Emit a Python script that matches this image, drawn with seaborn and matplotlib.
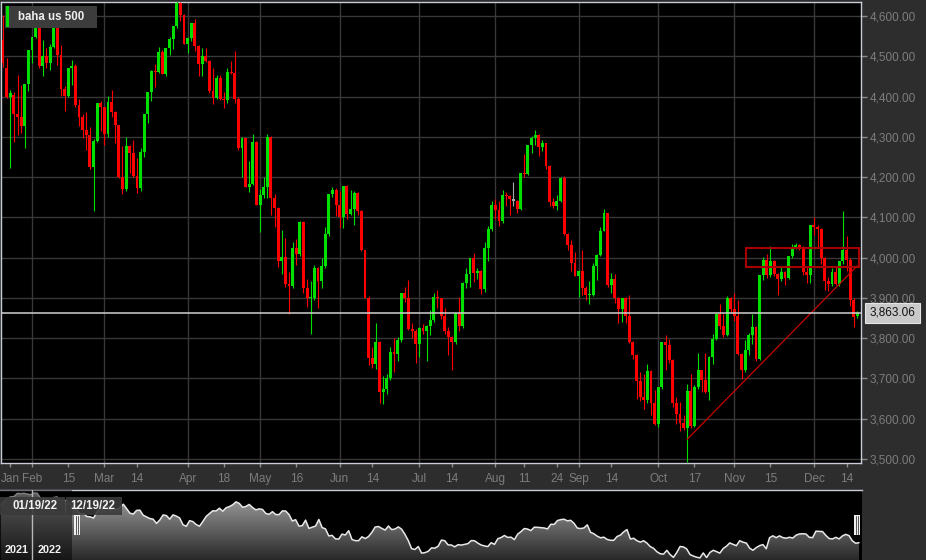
import numpy as np
import pandas as pd
import seaborn as sns
import matplotlib.pyplot as plt
from matplotlib.patches import Rectangle, PathPatch
from matplotlib.lines import Line2D
from matplotlib.colors import LinearSegmentedColormap

# CFD trading days (holidays traded, Good Friday closed)
dates = pd.bdate_range('2022-01-19', '2022-12-19')
dates = dates[dates != pd.Timestamp('2022-04-15')]

opens = [4577, 4540, 4470, 4398, 4405, 4356, 4350, 4327, 4432,
         4516, 4547, 4589, 4477, 4501, 4484, 4522, 4587, 4504, 4419, 4402, 4471, 4475, 4380, 4349, 4318, 4305, 4226, 4289, 4385,
         4374, 4306, 4387, 4363, 4329, 4201, 4171, 4278, 4260, 4204, 4173, 4262, 4358, 4412, 4463, 4461, 4512, 4456, 4520, 4543, 4576, 4632, 4602,
         4530, 4546, 4583, 4525, 4481, 4500, 4488, 4413, 4397, 4447, 4393, 4392, 4462, 4459, 4394, 4272, 4296, 4175, 4184, 4288,
         4132, 4155, 4175, 4300, 4147, 4123, 3991, 4001, 3935, 3930, 4024, 4008, 4089, 3924, 3901, 3901, 3974, 3941, 3979, 4058, 4158, 4168,
         4132, 4101, 4177, 4109, 4121, 4161, 4116, 4018, 3901, 3750, 3735, 3790, 3667, 3675, 3700, 3765, 3760, 3796, 3912, 3900, 3822, 3819,
         3785, 3825, 3818, 3831, 3845, 3903, 3899, 3854, 3819, 3802, 3790, 3863, 3831, 3937, 3960, 3999, 3962, 3967, 3921, 4024, 4072,
         4130, 4119, 4091, 4155, 4152, 4145, 4140, 4122, 4210, 4207, 4280, 4297, 4305, 4274, 4284, 4228, 4138, 4129, 4141, 4199, 4058, 4031, 3986,
         3955, 3967, 3924, 3908, 3908, 3980, 4006, 4067, 4110, 3933, 3946, 3901, 3873, 3900, 3856, 3790, 3758, 3693, 3655, 3647, 3719, 3640,
         3586, 3678, 3791, 3783, 3745, 3640, 3612, 3589, 3577, 3670, 3583, 3678, 3720, 3695, 3666, 3753, 3797, 3859, 3831, 3807, 3901,
         3872, 3856, 3760, 3720, 3771, 3807, 3828, 3749, 3956, 3993, 3957, 3992, 3959, 3947, 3965, 3950, 4004, 4027, 4032, 4026, 3964, 3958,
         4080, 4077, 4072, 3999, 3941, 3934, 3964, 3934, 3991, 4020, 3995, 3896, 3855]
highs = [4611, 4602, 4495, 4417, 4411, 4453, 4429, 4432, 4516,
         4546, 4595, 4590, 4540, 4521, 4531, 4590, 4588, 4527, 4426, 4472, 4490, 4480, 4395, 4358, 4363, 4325, 4295, 4385, 4389,
         4375, 4401, 4416, 4365, 4330, 4277, 4299, 4280, 4292, 4247, 4272, 4358, 4412, 4465, 4482, 4522, 4515, 4521, 4547, 4576, 4637, 4635, 4605,
         4548, 4583, 4594, 4528, 4521, 4521, 4490, 4471, 4453, 4453, 4411, 4471, 4489, 4513, 4398, 4300, 4298, 4240, 4308, 4290,
         4170, 4200, 4308, 4302, 4158, 4125, 4068, 4050, 3965, 4038, 4047, 4090, 4092, 3946, 3943, 3982, 3976, 3999, 4075, 4158, 4175, 4172,
         4166, 4177, 4180, 4169, 4165, 4163, 4119, 4020, 3905, 3779, 3838, 3792, 3707, 3712, 3779, 3801, 3802, 3913, 3928, 3945, 3837, 3822,
         3829, 3835, 3833, 3870, 3911, 3919, 3900, 3874, 3829, 3805, 3863, 3902, 3940, 3975, 3999, 4012, 3975, 3970, 4039, 4078, 4140,
         4145, 4141, 4167, 4162, 4155, 4187, 4142, 4211, 4257, 4280, 4301, 4318, 4307, 4293, 4286, 4230, 4149, 4156, 4200, 4203, 4062, 4045, 4015,
         3970, 4019, 3930, 3942, 3987, 4010, 4077, 4120, 4112, 3961, 3959, 3903, 3900, 3902, 3907, 3792, 3760, 3716, 3710, 3736, 3720, 3672,
         3679, 3791, 3807, 3797, 3748, 3653, 3641, 3608, 3685, 3712, 3683, 3763, 3722, 3762, 3757, 3810, 3862, 3886, 3859, 3905, 3903,
         3912, 3895, 3762, 3796, 3814, 3860, 3830, 3958, 4001, 4009, 4028, 3995, 3961, 3979, 3967, 4004, 4033, 4036, 4035, 4028, 3977, 4080,
         4101, 4080, 4074, 4002, 3951, 3974, 3977, 3991, 4115, 4053, 3998, 3900, 3868]
lows = [4530, 4474, 4396, 4222, 4288, 4304, 4309, 4273, 4415,
        4483, 4545, 4471, 4451, 4471, 4465, 4520, 4479, 4402, 4364, 4400, 4429, 4373, 4327, 4296, 4267, 4221, 4115, 4287, 4315,
        4279, 4300, 4350, 4284, 4199, 4157, 4165, 4210, 4200, 4161, 4165, 4251, 4335, 4390, 4425, 4458, 4455, 4452, 4503, 4518, 4570, 4589, 4530,
        4508, 4539, 4514, 4451, 4451, 4487, 4409, 4382, 4393, 4392, 4372, 4385, 4455, 4384, 4268, 4201, 4176, 4163, 4180, 4131,
        4063, 4147, 4148, 4106, 4077, 3976, 3959, 3928, 3859, 3925, 3983, 4005, 3912, 3877, 3810, 3895, 3875, 3925, 3975, 4055, 4150, 4104,
        4074, 4074, 4096, 4105, 4081, 4107, 4017, 3901, 3734, 3725, 3723, 3640, 3637, 3662, 3695, 3717, 3743, 3790, 3889, 3820, 3800, 3738,
        3753, 3810, 3743, 3809, 3840, 3876, 3847, 3811, 3759, 3722, 3785, 3818, 3825, 3924, 3927, 3939, 3947, 3910, 3915, 3992, 4065,
        4097, 4079, 4085, 4128, 4107, 4128, 4112, 4118, 4201, 4205, 4261, 4281, 4253, 4265, 4219, 4129, 4123, 4119, 4138, 4057, 4018, 3967, 3954,
        3903, 3907, 3895, 3886, 3905, 3945, 4004, 4065, 3928, 3912, 3887, 3838, 3839, 3837, 3789, 3749, 3648, 3644, 3623, 3640, 3610, 3584,
        3580, 3675, 3722, 3739, 3628, 3588, 3569, 3571, 3492, 3577, 3580, 3675, 3667, 3664, 3647, 3736, 3795, 3824, 3804, 3805, 3863,
        3843, 3758, 3698, 3715, 3758, 3786, 3744, 3745, 3944, 3949, 3953, 3955, 3907, 3941, 3933, 3947, 3999, 4022, 4020, 3956, 3937, 3938,
        4057, 4027, 3984, 3919, 3918, 3930, 3933, 3930, 3985, 3966, 3880, 3828, 3850]
closes = [4533, 4483, 4398, 4410, 4356, 4350, 4327, 4432, 4516,
          4547, 4589, 4477, 4501, 4484, 4522, 4587, 4504, 4419, 4402, 4471, 4475, 4380, 4349, 4318, 4305, 4226, 4289, 4385, 4374,
          4306, 4387, 4363, 4329, 4201, 4171, 4278, 4260, 4204, 4173, 4262, 4358, 4412, 4463, 4461, 4512, 4456, 4520, 4543, 4576, 4632, 4602, 4530,
          4546, 4583, 4525, 4481, 4500, 4488, 4413, 4397, 4447, 4393, 4392, 4462, 4459, 4394, 4272, 4296, 4175, 4184, 4288, 4132,
          4155, 4175, 4300, 4147, 4123, 3991, 4001, 3935, 3930, 4024, 4008, 4089, 3924, 3901, 3901, 3974, 3941, 3979, 4058, 4158, 4168, 4132,
          4101, 4177, 4109, 4121, 4161, 4116, 4018, 3901, 3750, 3735, 3790, 3667, 3675, 3700, 3765, 3760, 3796, 3912, 3900, 3822, 3819, 3785,
          3825, 3818, 3831, 3845, 3903, 3899, 3854, 3819, 3802, 3790, 3863, 3831, 3937, 3960, 3999, 3962, 3967, 3921, 4024, 4072, 4130,
          4119, 4091, 4155, 4152, 4145, 4140, 4122, 4210, 4207, 4280, 4297, 4305, 4274, 4284, 4228, 4138, 4129, 4141, 4199, 4058, 4031, 3986, 3955,
          3967, 3924, 3908, 3908, 3980, 4006, 4067, 4110, 3933, 3946, 3901, 3873, 3900, 3856, 3790, 3758, 3693, 3655, 3647, 3719, 3640, 3586,
          3678, 3791, 3783, 3745, 3640, 3612, 3589, 3577, 3670, 3583, 3678, 3720, 3695, 3666, 3753, 3797, 3859, 3831, 3807, 3901, 3872,
          3856, 3760, 3720, 3771, 3807, 3828, 3749, 3956, 3993, 3957, 3992, 3959, 3947, 3965, 3950, 4004, 4027, 4032, 4026, 3964, 3958, 4080,
          4077, 4072, 3999, 3941, 3934, 3964, 3934, 3991, 4020, 3995, 3896, 3852, 3863.06]

# closes Dec 20 2021 .. Jan 18 2022 (only shown in the navigator)
prev_closes = [4568, 4649, 4697, 4726, 4730, 4791, 4786, 4793, 4778, 4766,
               4797, 4794, 4701, 4696, 4677, 4670, 4713, 4726, 4660, 4663, 4655, 4577]

last_price = 3863.06
y_ticks = [3500, 3600, 3700, 3800, 3900, 4000, 4100, 4200, 4300, 4400, 4500, 4600]
tick_dates = ['2022-01-24', '2022-02-01', '2022-02-15', '2022-03-01', '2022-03-14', '2022-04-01',
              '2022-04-18', '2022-05-02', '2022-05-16', '2022-06-01', '2022-06-14', '2022-07-01',
              '2022-07-14', '2022-08-01', '2022-08-11', '2022-08-24', '2022-09-01', '2022-09-14',
              '2022-10-03', '2022-10-17', '2022-11-01', '2022-11-15', '2022-12-01', '2022-12-14']
tick_labels = ['Jan', 'Feb', '15', 'Mar', '14', 'Apr', '18', 'May', '16', 'Jun', '14', 'Jul',
               '14', 'Aug', '11', '24', 'Sep', '14', 'Oct', '17', 'Nov', '15', 'Dec', '14']
month_dates = ['2022-02-01', '2022-03-01', '2022-04-01', '2022-05-02', '2022-06-01', '2022-07-01',
               '2022-08-01', '2022-09-01', '2022-10-03', '2022-11-01', '2022-12-01']

trend_dates = ['2022-10-13', '2022-12-19']
trend_values = [3549, 3980]
zone_dates = ['2022-11-04', '2022-12-19']
zone_values = [3977, 4024]
highlight_date = '2022-08-08'

UP, DOWN, GREY = '#00e000', '#ff0000', '#a8a8a8'
BG = '#2d2d2d'
GRID = '#383838'
BORDER = '#c8ccd8'
LABEL = '#7d7d7d'

sns.set_theme(style='dark', rc={'axes.facecolor': 'black', 'figure.facecolor': BG})
plt.rcParams['font.family'] = ['Liberation Sans', 'DejaVu Sans']

df = pd.DataFrame({'date': dates, 'open': opens, 'high': highs, 'low': lows, 'close': closes})
df['i'] = np.arange(len(df))
pos = {d: i for i, d in enumerate(df['date'])}


def ix(d):
    return pos[pd.Timestamp(d)]


def fx(px):
    return px / 926


def fy(py):
    return 1 - py / 560


fig = plt.figure(figsize=(9.26, 5.6), dpi=100, facecolor=BG)
ax = fig.add_axes([fx(1), fy(463), 860 / 926, 461 / 560])
ax.set_facecolor('black')

cols = np.where(df['close'] >= df['open'], UP, DOWN).astype(object)
cols[ix(highlight_date)] = GREY
body = np.maximum((df['close'] - df['open']).abs(), 1.5)
bottom = np.minimum(df['open'], df['close'])
ax.vlines(df['i'], df['low'], df['high'], colors=cols, linewidth=0.8, zorder=3)
ax.bar(df['i'], body, bottom=bottom, width=0.8, color=cols, linewidth=0, zorder=3)

# grid
ax.set_axisbelow(True)
ax.set_yticks(y_ticks)
ax.set_yticklabels([f'{v:,.2f}' for v in y_ticks])
ax.yaxis.grid(True, color=GRID, linewidth=1)
ax.xaxis.grid(False)
for d in month_dates:
    ax.axvline(ix(d), color=GRID, linewidth=1, zorder=1)

ax.set_xticks([ix(d) for d in tick_dates])
ax.set_xticklabels(tick_labels)
ax.yaxis.tick_right()
ax.tick_params(axis='y', right=True, left=False, labelright=True, labelleft=False,
               length=4, width=1, color='#8a8a8a', labelcolor=LABEL, labelsize=8.5, pad=2)
ax.tick_params(axis='x', bottom=True, length=3, width=1, color='#8a8a8a',
               labelcolor=LABEL, labelsize=8.5, pad=4)
for s in ax.spines.values():
    s.set_visible(True)
    s.set_color(BORDER)
    s.set_linewidth(1)

# annotations
ax.plot([ix(trend_dates[0]), ix(trend_dates[1])], trend_values, color='#c80000', linewidth=0.9, zorder=4)
ax.add_patch(Rectangle((ix(zone_dates[0]) + 0.2, zone_values[0]),
                       ix(zone_dates[1]) + 0.3 - ix(zone_dates[0]), zone_values[1] - zone_values[0],
                       fill=False, edgecolor='#a80000', linewidth=1.5, zorder=4))
ax.axhline(last_price, color='#d0d0d0', linewidth=1.1, zorder=5)
ax.text(1.01, last_price, f'{last_price:,.2f}', transform=ax.get_yaxis_transform(),
        ha='left', va='center', fontsize=8.5, color='#111111', clip_on=False,
        bbox=dict(boxstyle='square,pad=0.35', fc='#c9c9c9', ec='#e4e4e4', lw=0.8))

ax.set_xlim(0.44, 238.0)
ax.set_ylim(3490, 4635)

# title badge
fig.add_artist(Rectangle((fx(5), fy(28)), 92 / 926, 22 / 560, transform=fig.transFigure,
                         fc='#3c3c3c', ec='none', zorder=5))
fig.add_artist(Rectangle((fx(6), fy(27)), 3 / 926, 21 / 560, transform=fig.transFigure,
                         fc=UP, ec='none', zorder=6))
fig.text(fx(18), fy(17), 'baha us 500', color='#eeeeee', fontsize=8.3, weight='bold',
         ha='left', va='center', zorder=7)

# navigator
nav_closes = prev_closes + closes
nav_idx = np.arange(len(nav_closes))
ax2 = fig.add_axes([0, 0, 862 / 926, 70 / 560])
ax2.set_facecolor('black')
nx0, nx1, ny0, ny1 = -0.21, 259.9, 3537, 4855
poly = ax2.fill_between(nav_idx, nav_closes, ny0 - 50, color='none', linewidth=0)
clip = PathPatch(poly.get_paths()[0], transform=ax2.transData, fc='none', ec='none')
ax2.add_patch(clip)
grad = np.linspace(0, 1, 256).reshape(-1, 1)
cmap = LinearSegmentedColormap.from_list('nav', ['#282828', '#a8a8a8'])
im = ax2.imshow(grad, extent=[nx0, nx1, ny0, ny1], origin='lower', aspect='auto', cmap=cmap, zorder=1)
im.set_clip_path(clip)
sns.lineplot(x=nav_idx, y=nav_closes, ax=ax2, color='#e8e8e8', linewidth=1.1, zorder=3)
sel = len(prev_closes)
ax2.axvspan(nx0, sel - 0.4, color='black', alpha=0.45, linewidth=0, zorder=4)
ax2.axvline(9.5, color='#b8b8b8', linewidth=1, zorder=5)
ax2.set_xlim(nx0, nx1)
ax2.set_ylim(ny0, ny1)
ax2.set_xticks([])
ax2.set_yticks([])
ax2.set_xlabel('')
ax2.set_ylabel('')
for k, s in ax2.spines.items():
    s.set_visible(k == 'top')
    s.set_color(BORDER)
    s.set_linewidth(1)

# navigator labels and handles
for x0, w, txt, cx in [(0, 65, '01/19/22', 35), (66, 56, '12/19/22', 93)]:
    fig.add_artist(Rectangle((fx(x0), fy(515)), w / 926, 18 / 560, transform=fig.transFigure,
                             fc='#3a3a3a', ec='none', alpha=0.9, zorder=6))
    fig.text(fx(cx), fy(506), txt, color='#f2f2f2', fontsize=8.3, weight='bold',
             ha='center', va='center', zorder=7)
for txt, cx in [('2021', 16.5), ('2022', 50)]:
    fig.text(fx(cx), fy(550), txt, color='#f2f2f2', fontsize=7.8, weight='bold',
             ha='center', va='center', zorder=7)
for hx in (74, 854):
    fig.add_artist(Rectangle((fx(hx), fy(535)), 6 / 926, 20 / 560, transform=fig.transFigure,
                             fc='#f0f0f0', ec='none', zorder=6))
    for off in (2, 4):
        fig.add_artist(Line2D([fx(hx + off), fx(hx + off)], [fy(534), fy(516)],
                              transform=fig.transFigure, color='#555555', linewidth=0.7, zorder=7))

fig.savefig('out.png', dpi=100, facecolor=BG)
